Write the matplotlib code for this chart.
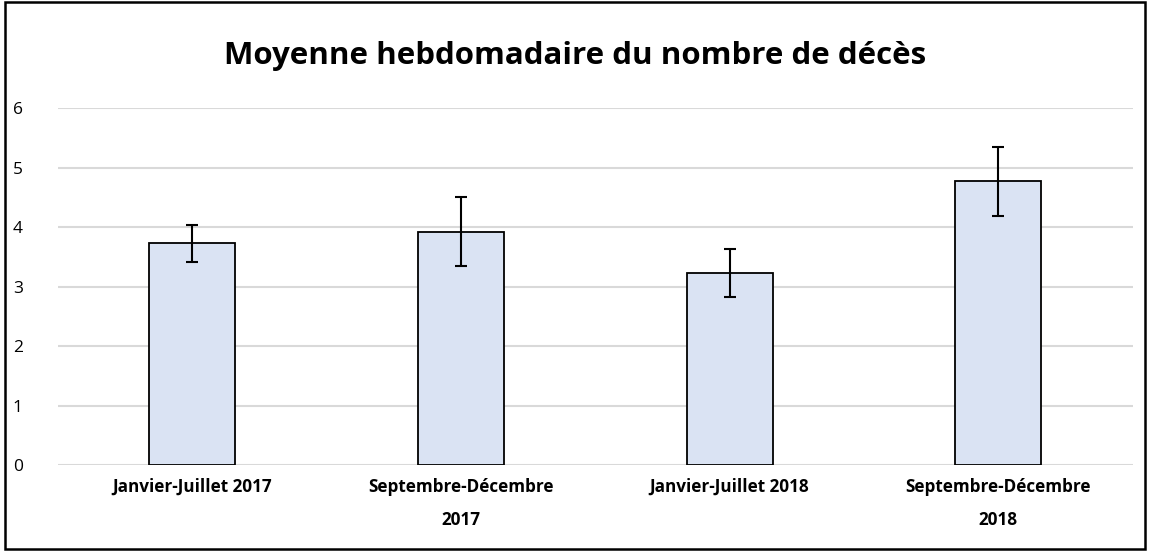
import numpy as np
import matplotlib.pyplot as plt
from matplotlib.patches import Rectangle

# Data
categories = ["Janvier-Juillet 2017", "Septembre-Décembre\n2017",
              "Janvier-Juillet 2018", "Septembre-Décembre\n2018"]
means = [3.73, 3.92, 3.23, 4.77]
errors = [0.31, 0.58, 0.40, 0.58]
yticks = [0, 1, 2, 3, 4, 5, 6]

plt.rcParams['font.family'] = ['Open Sans', 'DejaVu Sans']

fig = plt.figure(figsize=(11.5, 5.51), dpi=100)
ax = fig.add_axes([0.05, 0.156, 0.935, 0.648])

x = np.arange(len(categories))
ax.bar(x, means, width=0.32, color='#DAE3F3', edgecolor='black', linewidth=1.3, zorder=3)
ax.errorbar(x, means, yerr=errors, fmt='none', ecolor='black', elinewidth=1.5,
            capsize=4.5, capthick=1.5, zorder=4)

ax.set_xlim(-0.5, len(categories) - 0.5)
ax.set_ylim(0, 6)
ax.set_yticks(yticks)
ax.set_yticklabels([str(v) for v in yticks], fontsize=12.5)
ax.set_xticks(x)
ax.set_xticklabels(categories, fontsize=12.3, fontweight='bold', linespacing=2.1)
ax.tick_params(axis='y', length=0, pad=25)
ax.tick_params(axis='x', length=0, pad=9)

ax.grid(axis='y', color='#D9D9D9', linewidth=1.5, zorder=0)
for s in ax.spines.values():
    s.set_visible(False)

fig.text(0.5, 0.898, "Moyenne hebdomadaire du nombre de décès", ha='center', va='center',
         fontsize=22.5, fontweight='bold')

# cadre autour de la figure
fig.patches.append(Rectangle((0.004, 0.003), 0.992, 0.994, transform=fig.transFigure,
                             fill=False, edgecolor='black', linewidth=1.8))

fig.savefig('out.png', dpi=100)
